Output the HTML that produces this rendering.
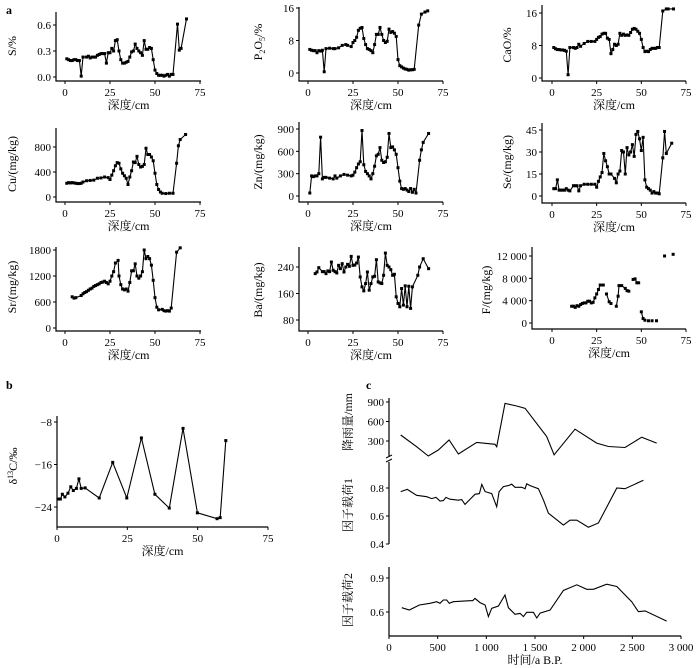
<!DOCTYPE html>
<html><head><meta charset="utf-8"><style>
html,body{margin:0;padding:0;background:#fff;}
svg{display:block;font-family:"Liberation Serif","Noto Serif CJK SC","Noto Sans CJK SC",serif;}
</style></head><body>
<svg id="fig" width="700" height="668" viewBox="0 0 700 668">
<text x="6" y="14" font-size="12" font-weight="bold">a</text>
<text x="6" y="389" font-size="12" font-weight="bold">b</text>
<text x="366" y="389" font-size="12" font-weight="bold">c</text>
</svg>
<script>
// ---- data ----
const sDepth=[1,2,3,4,5,6,7,8,9,10,12,13,14,15,16,17,18,19,20,21,22,23,24,25,26,27,28,29,30,31,32,33,34,35,36,37,38,39,40,41,42,43,44,45,46,47,48,49,50,51,52,53,54,55,56,57,58,59,60,62.5,63.5,64.5,67.5];
const sVal=[0.21,0.20,0.19,0.19,0.20,0.20,0.19,0.19,0.01,0.23,0.23,0.24,0.22,0.23,0.23,0.23,0.25,0.26,0.27,0.27,0.27,0.16,0.28,0.28,0.33,0.30,0.42,0.43,0.30,0.20,0.16,0.16,0.17,0.18,0.23,0.29,0.30,0.38,0.33,0.30,0.28,0.25,0.42,0.32,0.32,0.34,0.33,0.20,0.08,0.04,0.02,0.02,0.02,0.01,0.02,0.03,0.01,0.03,0.03,0.61,0.31,0.33,0.67];
const pDepth=[1,2,3,4,5,6,7,8,9,10,12,14,15,17,19,21,22,24,25,26,27,28,29,30,31,32,33,34,35,36,37,38,39,40,41,42,43,44,45,46,47,48,49,50,51,52,53,54,55,56,57,58,59,61.5,63,65,66.5];
const pVal=[5.8,5.6,5.5,5.5,5.0,5.5,5.4,5.6,0.3,6.0,6.1,6.0,6.0,6.2,6.8,7.0,6.8,6.5,7.5,8.0,8.8,10.5,11.0,11.2,8.5,7.0,6.0,5.8,5.5,5.0,7.0,9.5,9.5,11.2,9.5,8.0,7.5,7.8,10.8,10.0,10.2,9.8,9.0,3.3,1.8,1.5,1.2,1.0,0.9,0.7,0.8,0.8,0.9,11.8,14.5,15.0,15.3];
const caDepth=[1,2,3,4,5,6,7,8,9,10,12,13,14,15,16,18,20,22,24,25,26,27,28,29,30,31,32,33,34,35,36,37,38,39,40,41,42,43,44,45,46,47,48,49,50,51,52,53,54,55,56,57,58,59,60,62,64,65,68];
const caVal=[7.5,7.2,7.0,7.0,6.9,6.9,6.8,6.6,0.8,7.5,7.5,7.3,7.5,8.3,7.8,8.5,9.0,9.0,9.0,9.5,10.0,10.2,10.8,11.0,11.0,9.8,9.5,6.0,7.0,8.3,8.0,8.3,11.0,10.5,10.8,10.5,10.6,10.5,11.2,12.0,12.2,12.0,11.5,11.0,9.5,7.5,6.5,6.6,6.5,7.0,7.3,7.3,7.3,7.5,7.5,16.5,17.0,17.0,17.0];
const cuDepth=[1,2,3,4,5,6,7,8,9,10,12,14,16,18,20,22,24,25,26,27,28,29,30,31,32,33,34,35,36,37,38,39,40,41,42,43,44,45,46,47,48,49,50,51,52,53,54,56,58,60,62,63,64,67];
const cuVal=[220,230,225,230,225,220,215,215,220,240,260,265,270,300,305,320,310,280,350,420,500,550,540,450,380,340,300,200,320,420,560,550,650,520,480,490,520,780,680,680,640,580,380,200,120,80,60,55,60,60,540,820,920,1000];
const znDepth=[1,2,3,4,5,6,7,8,9,10,12,14,15,16,18,20,22,24,25,26,27,28,29,30,31,32,33,34,35,36,37,38,39,40,41,42,43,44,45,46,47,48,49,50,51,52,53,54,55,56,57,58,59,60,62,63,64,67];
const znVal=[40,270,260,270,270,300,790,230,250,250,240,230,270,240,270,290,280,270,280,320,380,430,460,880,420,330,300,270,230,300,400,540,560,650,480,450,460,520,840,650,660,620,560,380,200,100,90,100,80,60,100,50,90,40,480,620,720,840];
const seDepth=[1,2,3,4,5,6,7,8,9,10,12,13,14,15,16,18,20,22,24,25,26,27,28,29,30,31,32,33,35,36,37,38,39,40,41,42,43,44,45,46,47,48,49,50,51,52,53,54,55,56,57,58,59,60,62,63,64,67];
const seVal=[5,5,11,4,4,4,4,5,4,3.5,7,7,7,3.5,7,8,8,8,8,6,10,13,16,29,24,20,15,15,12,9,15,17,31,30,15,33,28,30,35,27,42,44,39,31,40,11,6,5,4,2,3,2,2,1.5,26,44,29,36];
const srDepth=[4,5,6,9,10,11,12,13,14,15,16,17,18,19,20,21,22,23,24,25,26,27,28,29.5,30,31,32,33,34,35,36,37,38,39,40,41,42,43,44,45,46,47,48,49,50,51,52,54,55,56,57,58,59,62,64];
const srVal=[720,690,700,750,790,820,840,870,900,920,960,980,1000,1020,1050,1060,1080,1050,1020,1080,1200,1300,1500,1560,1200,1000,900,880,900,850,1050,1320,1320,1480,1200,1150,1200,1300,1800,1600,1650,1600,1450,1100,700,480,420,430,400,390,400,390,460,1750,1850];
const baDepth=[4,5,6,8,9,10,11,12,13,14,15,16,17,18,19,20,21,22,23,24,25,26,27,28,29,30,31,32,33,34,35,36,37,38,39,40,41,42,43,44,45,46,47,48,49,50,51,52,53,54,55,56,57,58,61,62,64,67];
const baVal=[220,225,238,226,226,220,228,226,255,230,226,222,245,235,250,225,240,248,242,272,245,246,252,270,210,180,168,190,225,170,190,210,212,262,195,192,190,215,282,245,240,232,215,218,150,130,120,175,125,183,120,182,115,180,215,240,265,235];
const fDepth=[11,12,13,14,15,16,17,18,19,20,21,22,23,24,25,26,27,28.7,30.5,32,33,36,37,37.5,39,41,42,43,45.4,46.5,47.5,48.5,50,51,52,54,56,58.5,63,67.8];
const fVal=[3000,3000,2800,3100,3000,3300,3500,3600,3600,3900,3900,3600,3700,4500,5200,6000,6800,6800,5200,3800,3500,3000,4800,6700,6700,6200,5800,5700,7800,7900,7200,7200,2000,800,500,400,400,400,12000,12300];
const fGroup=[0,0,0,0,0,0,0,0,0,0,0,0,0,0,0,0,0,0,1,1,1,2,2,2,2,2,2,2,3,3,3,3,4,4,4,5,6,7,8,9];
const dDepth=[0.5,1.2,1.9,2.8,3.9,4.9,5.8,6.9,7.8,8.6,10,15,19.8,24.8,30,34.8,39.9,44.8,49.9,56.9,58,60];
const dVal=[-22.5,-22.5,-21.6,-22.1,-21.4,-20.2,-20.9,-20.5,-18.7,-20.5,-20.4,-22.3,-15.6,-22.3,-11.0,-21.6,-24.2,-9.2,-25.1,-26.2,-26.0,-11.5];
const rainT=[120,284,404,507,617,713,901,1089,1106,1192,1312,1398,1620,1696,1911,2134,2254,2425,2596,2750];
const rainV=[392,213,69,162,315,100,279,249,213,879,838,803,369,87,482,267,215,200,359,267];
const f1T=[120,188,284,387,438,483,524,558,586,627,713,747,781,833,884,929,953,987,1055,1107,1131,1175,1227,1261,1295,1364,1398,1415,1450,1535,1587,1638,1792,1860,1929,2049,2151,2340,2425,2614];
const f1V=[0.774,0.79,0.748,0.738,0.724,0.733,0.707,0.71,0.733,0.72,0.713,0.717,0.683,0.72,0.755,0.76,0.826,0.774,0.76,0.666,0.774,0.81,0.817,0.827,0.805,0.805,0.795,0.83,0.817,0.795,0.713,0.62,0.535,0.57,0.57,0.52,0.55,0.8,0.795,0.855];
const f2T=[131,209,312,421,490,524,558,593,620,661,833,860,884,935,987,1021,1055,1124,1192,1227,1295,1347,1381,1415,1484,1518,1552,1655,1792,1929,2031,2100,2237,2340,2494,2562,2631,2853];
const f2V=[0.638,0.618,0.662,0.677,0.691,0.677,0.706,0.706,0.677,0.691,0.70,0.70,0.72,0.683,0.662,0.559,0.633,0.653,0.75,0.638,0.58,0.588,0.559,0.597,0.597,0.547,0.59,0.618,0.79,0.84,0.80,0.80,0.845,0.825,0.691,0.603,0.61,0.52];
const depthTicks=[0,25,50,75];
const timeTicks=[0,500,1000,1500,2000,2500,3000];
const timeTickLabels=["0","500","1 000","1 500","2 000","2 500","3 000"];

// ---- helpers ----
const svg=document.getElementById('fig');
const NS='http://www.w3.org/2000/svg';
function mk(tag,attrs,parent){const e=document.createElementNS(NS,tag);for(const k in attrs)e.setAttribute(k,attrs[k]);(parent||svg).appendChild(e);return e;}
function lin(a0,p0,a1,p1){return v=>p0+(v-a0)*(p1-p0)/(a1-a0);}

function panel(o){
  const g=mk('g',{});
  
  
  const X=lin(o.xa[0],o.xp[0],o.xa[1],o.xp[1]);
  const Y=lin(o.ya[0],o.yp[0],o.ya[1],o.yp[1]);
  const ax=mk('path',{d:`M${o.axX},${o.yTop}V${o.yBot}H${o.xEnd}`,fill:'none',stroke:'#000','stroke-width':1.2},g);
  
  
  if(o.xTicks){o.xTicks.forEach((t,i)=>{
    const px=X(t);
    mk('line',{x1:px,y1:o.yBot,x2:px,y2:o.yBot+3,stroke:'#000'},g);
    const tl=mk('text',{x:px,y:o.yBot+15,'font-size':11,'text-anchor':'middle'},g);
    tl.textContent=o.xLabels?o.xLabels[i]:String(t);
    
    
  });}
  if(o.xTitle){const xt=mk('text',{x:(o.axX+o.xEnd)/2,y:o.yBot+28,'font-size':12,'text-anchor':'middle'},g);
    xt.textContent=o.xTitle;
    
    }
  o.yTicks.forEach((t,i)=>{
    const py=Y(t);
    mk('line',{x1:o.axX-3,y1:py,x2:o.axX,y2:py,stroke:'#000'},g);
    const tl=mk('text',{x:o.axX-5,y:py+4,'font-size':11,'text-anchor':'end'},g);
    tl.textContent=o.yLabels[i];
    
    
  });
  const yt=mk('text',{transform:`translate(${o.ytX},${o.ytY}) rotate(-90)`,'font-size':12,'text-anchor':'middle'},g);
  yt.innerHTML=o.yTitle;
  
  
  const xs=o.xs, vs=o.vs;
  let d='';
  for(let i=0;i<xs.length;i++){
    const brk=i===0||(o.group&&o.group[i]!==o.group[i-1]);
    d+=(brk?'M':'L')+X(xs[i]).toFixed(1)+','+Y(vs[i]).toFixed(1);
  }
  const ln=mk('path',{d:d,fill:'none',stroke:'#000','stroke-width':1.1},g);
  
  
  if(o.markers){for(let i=0;i<xs.length;i++){
    const m=mk('rect',{x:X(xs[i])-1.5,y:Y(vs[i])-1.5,width:3,height:3,fill:'#000'},g);
    
    
  }}
  return g;
}
const DT='深度/cm';
panel({name:'s',axX:56,xEnd:201,xa:[0,75],xp:[65,200],yTop:12,yBot:81,ya:[0,0.6],yp:[77,25],yTicks:[0,0.3,0.6],yLabels:['0.0','0.3','0.6'],xTicks:depthTicks,xTitle:DT,ytX:16,ytY:46,yTitle:'S/%',xs:sDepth,vs:sVal,markers:true});
panel({name:'p2o5',axX:299,xEnd:443,xa:[0,75],xp:[308,443],yTop:7,yBot:81,ya:[0,16],yp:[73,8],yTicks:[0,8,16],yLabels:['0','8','16'],xTicks:depthTicks,xTitle:DT,ytX:262,ytY:42,yTitle:'P<tspan font-size="8" dy="3">2</tspan><tspan dy="-3">O</tspan><tspan font-size="8" dy="3">5</tspan><tspan dy="-3">/%</tspan>',xs:pDepth,vs:pVal,markers:true});
panel({name:'cao',axX:542,xEnd:686,xa:[0,75],xp:[552,686],yTop:5,yBot:81,ya:[0,16],yp:[78,13],yTicks:[0,8,16],yLabels:['0','8','16'],xTicks:depthTicks,xTitle:DT,ytX:511,ytY:45,yTitle:'CaO/%',xs:caDepth,vs:caVal,markers:true});
panel({name:'cu',axX:56,xEnd:201,xa:[0,75],xp:[65,200],yTop:128,yBot:202,ya:[0,800],yp:[197,147],yTicks:[0,400,800],yLabels:['0','400','800'],xTicks:depthTicks,xTitle:DT,ytX:16,ytY:164,yTitle:'Cu/(mg/kg)',xs:cuDepth,vs:cuVal,markers:true});
panel({name:'zn',axX:299,xEnd:443,xa:[0,75],xp:[308,443],yTop:122,yBot:202,ya:[0,900],yp:[196,129],yTicks:[0,300,600,900],yLabels:['0','300','600','900'],xTicks:depthTicks,xTitle:DT,ytX:262,ytY:162,yTitle:'Zn/(mg/kg)',xs:znDepth,vs:znVal,markers:true});
panel({name:'se',axX:542,xEnd:686,xa:[0,75],xp:[552,686],yTop:123,yBot:203,ya:[0,45],yp:[196,130],yTicks:[0,15,30,45],yLabels:['0','15','30','45'],xTicks:depthTicks,xTitle:DT,ytX:511,ytY:162,yTitle:'Se/(mg/kg)',xs:seDepth,vs:seVal,markers:true});
panel({name:'sr',axX:56,xEnd:201,xa:[0,75],xp:[65,200],yTop:247,yBot:331,ya:[0,1800],yp:[328,250],yTicks:[0,600,1200,1800],yLabels:['0','600','1200','1800'],xTicks:depthTicks,xTitle:DT,ytX:16,ytY:287,yTitle:'Sr/(mg/kg)',xs:srDepth,vs:srVal,markers:true});
panel({name:'ba',axX:299,xEnd:443,xa:[0,75],xp:[308,443],yTop:247,yBot:331,ya:[80,240],yp:[320,267],yTicks:[80,160,240],yLabels:['80','160','240'],xTicks:depthTicks,xTitle:DT,ytX:262,ytY:290,yTitle:'Ba/(mg/kg)',xs:baDepth,vs:baVal,markers:true});
panel({name:'f',axX:532,xEnd:686,xa:[0,75],xp:[552,686],yTop:247,yBot:329,ya:[0,12000],yp:[323,256],yTicks:[0,4000,8000,12000],yLabels:['0','4 000','8 000','12 000'],xTicks:depthTicks,xTitle:DT,ytX:490,ytY:290,yTitle:'F/(mg/kg)',xs:fDepth,vs:fVal,group:fGroup,markers:true});
panel({name:'delta13c',axX:57,xEnd:268,xa:[0,75],xp:[57,268],yTop:416,yBot:527,ya:[-24,-8],yp:[507,422],yTicks:[-8,-16,-24],yLabels:['−8','−16','−24'],xTicks:depthTicks,xTitle:DT,ytX:17,ytY:466,yTitle:'δ<tspan font-size="8" dy="-4">13</tspan><tspan dy="4">C/‰</tspan>',xs:dDepth,vs:dVal,markers:true});
panel({name:'rainfall',axX:389,xEnd:389,xa:[0,3000],xp:[389,681],yTop:398,yBot:456,ya:[300,900],yp:[441,402],yTicks:[300,600,900],yLabels:['300','600','900'],ytX:352,ytY:422,yTitle:'降雨量/mm',xs:rainT,vs:rainV});
panel({name:'factor1',axX:389,xEnd:389,xa:[0,3000],xp:[389,681],yTop:462,yBot:544,ya:[0.6,0.8],yp:[516,488],yTicks:[0.4,0.6,0.8],yLabels:['0.4','0.6','0.8'],ytX:352,ytY:505,yTitle:'因子载荷1',xs:f1T,vs:f1V});
panel({name:'factor2',axX:389,xEnd:681,xa:[0,3000],xp:[389,681],yTop:567,yBot:636,ya:[0.6,0.9],yp:[612,578],yTicks:[0.6,0.9],yLabels:['0.6','0.9'],xTicks:timeTicks,xLabels:timeTickLabels,xTitle:'时间/a B.P.',ytX:352,ytY:600,yTitle:'因子载荷2',xs:f2T,vs:f2V});
const brk=mk('path',{d:'M386,458L392,455M386,462L392,459',stroke:'#000','stroke-width':1,fill:'none'});


</script>
</body></html>
